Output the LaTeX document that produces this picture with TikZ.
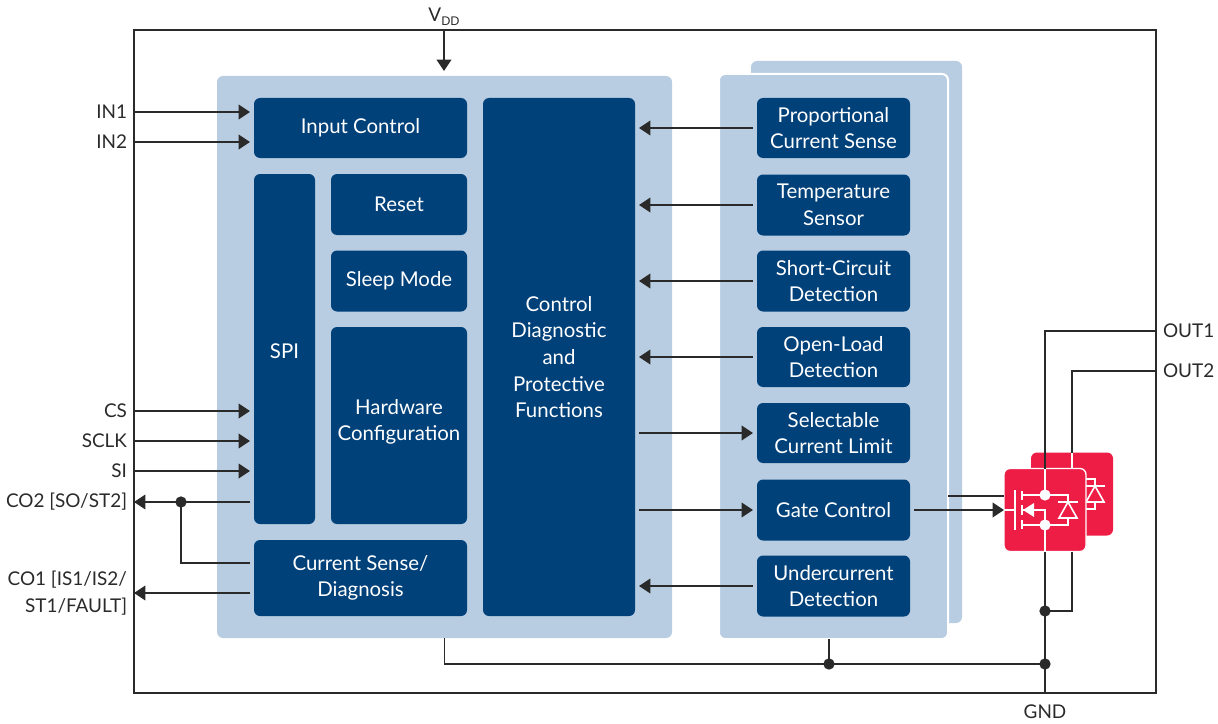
\documentclass[tikz,border=0pt]{standalone}
\usepackage{fontspec}
\setmainfont{Lato}
\usetikzlibrary{arrows.meta}
\definecolor{blockblue}{HTML}{00417A}
\definecolor{panelblue}{HTML}{B8CDE2}
\definecolor{chipred}{HTML}{EE1D45}
\definecolor{wiregray}{HTML}{2A2A2A}
\tikzset{
  wh/.style 2 args={minimum width=#1*0.75pt,minimum height=#2*0.75pt},
  panelbox/.style={fill=panelblue,rounded corners=4.5pt,inner sep=0pt,outer sep=0pt},
  blockbox/.style={fill=blockblue,text=white,rounded corners=4.5pt,align=center,inner sep=0pt,outer sep=3pt,font=\fontsize{15.3}{20}\selectfont},
  pinlabel/.style={text=wiregray,align=right,inner sep=0pt,outer sep=0pt,font=\fontsize{14.2}{20}\selectfont},
  leftpin/.style={pinlabel,anchor=east,inner xsep=5.25pt},
  rightpin/.style={pinlabel,anchor=west,inner xsep=5.25pt},
  wire/.style={draw=wiregray,line width=1.2pt},
  arrowwire/.style={wire,-{Triangle[length=8.5pt,width=11pt]}},
  junction/.style={circle,fill=wiregray,inner sep=0pt,outer sep=0pt,minimum size=8.5pt},
  chipbox/.style={fill=chipred,rounded corners=4.5pt,inner sep=0pt,outer sep=0pt,wh={82}{83}},
  fetline/.style={draw=white,line width=1.2pt},
  powerfet/.pic={
    \draw[fetline] (0,-41) -- (0,-15) -- (23,-15) -- (23,15) -- (0,15) -- (0,41);
    \draw[fetline] (-41,0) -- (-30,0) (-30,-20) -- (-30,20);
    \draw[fetline] (-23,-19) -- (-23,-10) (-23,-5) -- (-23,5) (-23,10) -- (-23,19);
    \draw[fetline] (-23,-15) -- (0,-15) (-23,15) -- (0,15);
    \draw[fetline] (-23,0) -- (0,0) -- (0,15);
    \fill[white] (-22,0) -- (-11,-7) -- (-11,7) -- cycle;
    \fill[white] (0,-15) circle (4.2pt) (0,15) circle (4.2pt);
    \draw[fetline,fill=chipred] (23,-8) -- (14,8) -- (32,8) -- cycle;
    \draw[fetline] (13,-8) -- (33,-8);
  }
}
\begin{document}
\begin{tikzpicture}[x=0.75pt,y=-0.75pt]
\useasboundingbox (0,0) rectangle (1218,724);

\node[draw=wiregray,line width=1.2pt,inner sep=0pt,outer sep=0pt,wh={1022}{663}] (frame) at (645,361.5) {};

% panels
\node[panelbox,wh={455}{562}] (logicpanel) at (444.5,357) {};
\node[panelbox,wh={211}{562}] (backpanel) at (856.5,342) {};
\node[panelbox,draw=white,line width=1.5pt,wh={229}{565}] (frontpanel) at (833.5,356.5) {};

% blocks of the logic panel
\node[blockbox,wh={213}{60}] (inputctl) at (360.5,128) {Input Control};
\node[blockbox,wh={61}{350}] (spi) at (284.5,349) {};
\node[blockbox] (spilabel) at (284.5,351) {SPI};
\node[blockbox,wh={136}{61}] (resetblk) at (399,204.5) {Reset};
\node[blockbox,wh={136}{61}] (sleepblk) at (399,281) {Sleep Mode};
\node[blockbox,wh={136}{197}] (hwconfig) at (399,425.5) {};
\node[blockbox] (hwlabel) at (399,422) {Hardware\\Configuration};
\node[blockbox,wh={213}{76}] (cursense) at (360.5,578) {Current Sense/\\Diagnosis};
\node[blockbox,wh={152}{518}] (control) at (559,357) {Control\\Diagnostic\\and\\Protective\\Functions};

% blocks of the output panel
\node[blockbox,wh={153}{60}] (propsense) at (833.5,128) {Proportional\\Current Sense};
\node[blockbox,wh={153}{61}] (tempsense) at (833.5,205) {Temperature\\Sensor};
\node[blockbox,wh={153}{61}] (shortdet) at (833.5,281) {Short-Circuit\\Detection};
\node[blockbox,wh={153}{60}] (opendet) at (833.5,357) {Open-Load\\Detection};
\node[blockbox,wh={153}{60}] (limitsel) at (833.5,433) {Selectable\\Current Limit};
\node[blockbox,wh={153}{61}] (gatectl) at (833.5,510) {Gate Control};
\node[blockbox,wh={153}{61}] (underdet) at (833.5,586) {Undercurrent\\Detection};

% pins
\node[pinlabel,anchor=south,inner ysep=3pt] (vdd) at (444,30) {V\raisebox{-3pt}{\fontsize{9}{9}\selectfont DD}};
\node[leftpin] (in1) at (134,112) {IN1};
\node[leftpin] (in2) at (134,142) {IN2};
\node[leftpin] (cs) at (134,411) {CS};
\node[leftpin] (sclk) at (134,441) {SCLK};
\node[leftpin] (si) at (134,471) {SI};
\node[leftpin] (co2) at (134,502) {CO2 [SO/ST2]};
\node[leftpin] (co1) at (134,593) {CO1 [IS1/IS2/\\ST1/FAULT]};
\node[rightpin] (out1) at (1156,331) {OUT1};
\node[rightpin] (out2) at (1156,371) {OUT2};
\node[pinlabel,anchor=north,inner ysep=9pt] (gnd) at (1045,693) {GND};

% power stage
\node[chipbox] (fet2) at (1072,494) {};
\pic at (fet2.center) {powerfet};
\node[chipbox,draw=white,line width=1pt] (fet1) at (1045,510) {};
\pic at (fet1.center) {powerfet};

\node[junction] (co2dot) at (181,502) {};
\node[junction] (gndleft) at (829,664) {};
\node[junction] (gndright) at (1045,664) {};
\node[junction] (srcdot) at (1045,611) {};
\coordinate (gatefeed) at (948,496);

% connectors
\draw[arrowwire,shorten >=3.75pt] (vdd.south) -- (vdd.south |- logicpanel.north);
\draw[arrowwire] (in1.east) -- (in1.east -| inputctl.west);
\draw[arrowwire] (in2.east) -- (in2.east -| inputctl.west);
\draw[arrowwire] (cs.east) -- (cs.east -| spi.west);
\draw[arrowwire] (sclk.east) -- (sclk.east -| spi.west);
\draw[arrowwire] (si.east) -- (si.east -| spi.west);
\draw[arrowwire] (co2.east -| spi.west) -- (co2.east);
\draw[wire] (co2dot.center) |- (cursense.west |- 0,563);
\draw[arrowwire] (co1.east -| cursense.west) -- (co1.east);

\draw[arrowwire] (propsense.west) -- (propsense.west -| control.east);
\draw[arrowwire] (tempsense.west) -- (tempsense.west -| control.east);
\draw[arrowwire] (shortdet.west) -- (shortdet.west -| control.east);
\draw[arrowwire] (opendet.west) -- (opendet.west -| control.east);
\draw[arrowwire] (limitsel.west -| control.east) -- (limitsel.west);
\draw[arrowwire] (gatectl.west -| control.east) -- (gatectl.west);
\draw[arrowwire] (underdet.west) -- (underdet.west -| control.east);

\draw[arrowwire] (gatectl.east) -- (gatectl.east -| fet1.west);
\draw[wire] (gatefeed) -- (gatefeed -| fet1.west);
\draw[wire] (out1.west) -| (fet1.north);
\draw[wire] (out2.west) -| (fet2.north);
\draw[wire] (fet1.south) -- (gnd.north);
\draw[wire] (fet2.south |- fet1.south) |- (srcdot.center);
\draw[wire] (logicpanel.south) |- (gndright.center);
\draw[wire] (gndleft.center) -- (gndleft.center |- frontpanel.south);
\end{tikzpicture}
\end{document}
